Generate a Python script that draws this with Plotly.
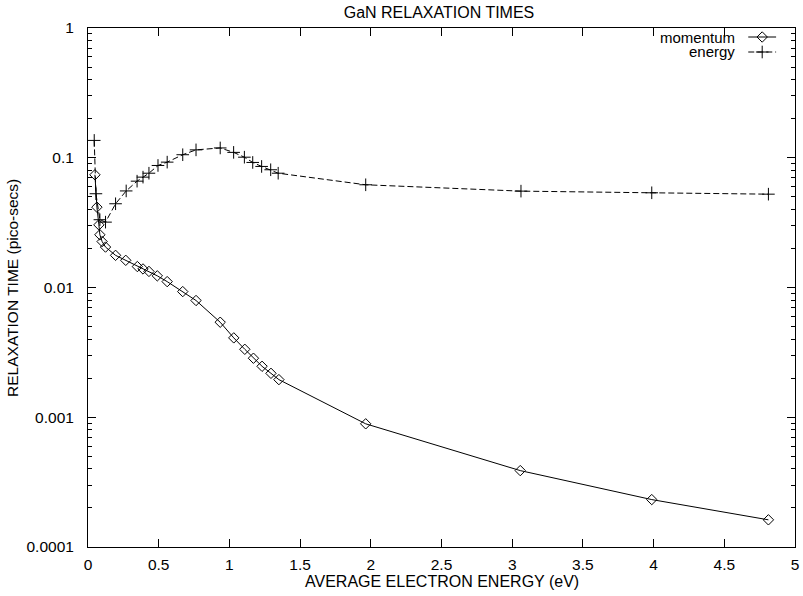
import plotly.graph_objects as go

# ---- data ----
mom_x = [0.049, 0.063, 0.077, 0.084, 0.100, 0.124, 0.195, 0.267, 0.349, 0.389, 0.431,
         0.490, 0.560, 0.670, 0.764, 0.935, 1.031, 1.109, 1.170, 1.231, 1.294, 1.350,
         1.964, 3.057, 3.987, 4.812]
mom_y = [0.0739, 0.0416, 0.0304, 0.0255, 0.0226, 0.0205, 0.0177, 0.0162, 0.0145, 0.0139,
         0.0133, 0.0123, 0.0111, 0.0093, 0.00794, 0.0054, 0.00409, 0.00334, 0.00285,
         0.00247, 0.00218, 0.00195, 0.00089, 0.000388, 0.000232, 0.000162]

en_x = [0.044, 0.056, 0.084, 0.124, 0.195, 0.270, 0.347, 0.389, 0.431, 0.495, 0.560,
        0.670, 0.764, 0.935, 1.030, 1.106, 1.165, 1.228, 1.292, 1.345, 1.964, 3.062,
        3.987, 4.812]
en_y = [0.136, 0.0528, 0.0333, 0.0319, 0.0442, 0.0555, 0.066, 0.0709, 0.076, 0.0872,
        0.0925, 0.1055, 0.115, 0.119, 0.110, 0.101, 0.092, 0.0857, 0.0808, 0.076,
        0.0619, 0.0553, 0.0537, 0.0524]

x_ticks = [0, 0.5, 1, 1.5, 2, 2.5, 3, 3.5, 4, 4.5, 5]
x_ticktext = ["0", "0.5", "1", "1.5", "2", "2.5", "3", "3.5", "4", "4.5", "5"]
y_ticks = [0.0001, 0.001, 0.01, 0.1, 1]
y_ticktext = ["0.0001", "0.001", "0.01", "0.1", "1"]
y_minor = [m * 10 ** e for e in range(-4, 0) for m in range(2, 10)]

series_names = ["momentum", "energy"]
title_text = "GaN RELAXATION TIMES"
x_title = "AVERAGE ELECTRON ENERGY (eV)"
y_title = "RELAXATION TIME (pico-secs)"

FONT = "Liberation Sans, Arial, Helvetica, sans-serif"
W, H = 803, 596
L, R, T, B = 88, 4, 28, 49
pw, ph = W - L - R, H - T - B

fig = go.Figure()
fig.add_trace(go.Scatter(
    x=mom_x, y=mom_y, mode="lines+markers", name=series_names[0],
    line=dict(color="black", width=1),
    marker=dict(symbol="diamond-open", size=8, color="black", line=dict(width=1, color="black")),
    showlegend=False, cliponaxis=False))
fig.add_trace(go.Scatter(
    x=en_x, y=en_y, mode="lines+markers", name=series_names[1],
    line=dict(color="black", width=1, dash="6px,3px"),
    marker=dict(symbol="cross-thin-open", size=9, color="black", line=dict(width=1, color="black")),
    showlegend=False, cliponaxis=False))

# ---- hand-drawn legend (gnuplot style: text, then sample) ----
def px_x(p):
    return (p - L) / pw

def px_y(p):
    return (H - B - p) / ph

leg_rows = [37, 52]
leg_text_right = 741
leg_line = (752, 780)
for i, name in enumerate(series_names):
    yy = leg_rows[i]
    fig.add_annotation(text=name, x=px_x(leg_text_right), y=px_y(yy), xref="paper", yref="paper",
                       xanchor="right", yanchor="middle", showarrow=False,
                       font=dict(family=FONT, size=15, color="black"))
    fig.add_shape(type="line", xref="paper", yref="paper",
                  x0=px_x(leg_line[0]), x1=px_x(leg_line[1]), y0=px_y(yy), y1=px_y(yy),
                  line=dict(color="black", width=1, dash="solid" if i == 0 else "6px,3px"))
fig.add_trace(go.Scatter(
    x=[(leg_line[0] + leg_line[1]) / 2], y=[leg_rows[0]], xaxis="x2", yaxis="y2", mode="markers",
    marker=dict(symbol="diamond-open", size=8, color="black", line=dict(width=1, color="black")),
    showlegend=False, hoverinfo="skip"))
fig.add_trace(go.Scatter(
    x=[(leg_line[0] + leg_line[1]) / 2], y=[leg_rows[1]], xaxis="x2", yaxis="y2", mode="markers",
    marker=dict(symbol="cross-thin-open", size=9, color="black", line=dict(width=1, color="black")),
    showlegend=False, hoverinfo="skip"))

# ---- titles ----
fig.add_annotation(text=x_title, x=0.5, y=px_y(581), xref="paper", yref="paper",
                   xanchor="center", yanchor="middle", showarrow=False,
                   font=dict(family=FONT, size=16, color="black"))
fig.add_annotation(text=y_title, x=px_x(12), y=0.5, xref="paper", yref="paper",
                   xanchor="center", yanchor="middle", showarrow=False, textangle=-90,
                   font=dict(family=FONT, size=15.5, color="black"))

fig.update_layout(
    width=W, height=H,
    margin=dict(l=L, r=R, t=T, b=B, pad=0),
    paper_bgcolor="white", plot_bgcolor="white",
    font=dict(family=FONT, size=16, color="black"),
    title=dict(text=title_text, x=439 / W, xref="container", xanchor="center",
               y=1 - 12 / H, yref="container", yanchor="middle",
               font=dict(family=FONT, size=16, color="black")),
    xaxis=dict(range=[0, 5], tickvals=x_ticks, ticktext=x_ticktext,
               ticks="inside", ticklen=8, tickwidth=1, tickcolor="black",
               showline=True, linecolor="black", linewidth=1, mirror="ticks",
               showgrid=False, zeroline=False, ticklabelstandoff=3,
               ticklabeloverflow="allow",
               tickfont=dict(family=FONT, size=15.5, color="black")),
    yaxis=dict(type="log", range=[-4, 0], tickvals=y_ticks, ticktext=y_ticktext,
               ticks="inside", ticklen=8, tickwidth=1, tickcolor="black",
               showline=True, linecolor="black", linewidth=1, mirror="ticks",
               showgrid=False, zeroline=False, ticklabelstandoff=10,
               ticklabeloverflow="allow",
               minor=dict(tickvals=y_minor, ticks="inside", ticklen=4, tickcolor="black",
                          showgrid=False),
               tickfont=dict(family=FONT, size=15.5, color="black")),
    xaxis2=dict(range=[L, W - R], overlaying="x", visible=False, showgrid=False, zeroline=False),
    yaxis2=dict(range=[H - B, T], overlaying="y", visible=False, showgrid=False, zeroline=False),
    showlegend=False,
)

fig.write_html("out.html")
